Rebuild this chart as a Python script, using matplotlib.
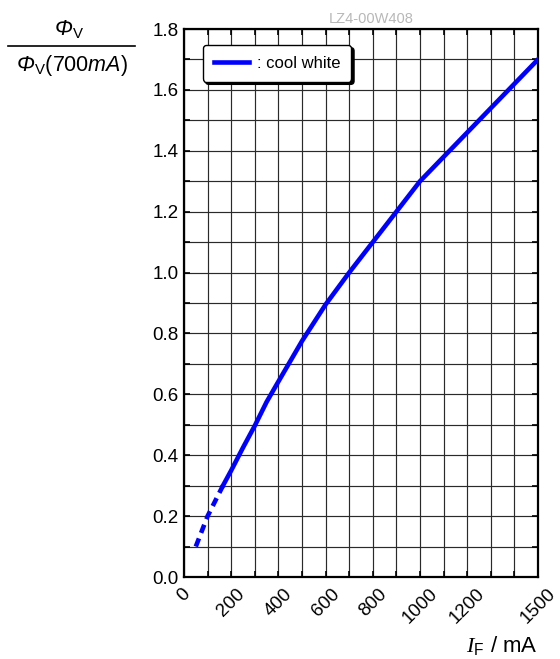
import matplotlib
matplotlib.use('Agg')
import matplotlib.pyplot as plt
from matplotlib.lines import Line2D

plt.rcParams['font.family'] = ['Liberation Sans', 'DejaVu Sans']
plt.rcParams['mathtext.fontset'] = 'custom'
plt.rcParams['mathtext.rm'] = 'Liberation Sans:italic'
plt.rcParams['mathtext.it'] = 'Liberation Sans:italic'
plt.rcParams['mathtext.sf'] = 'Liberation Sans'
plt.rcParams['mathtext.tt'] = 'Liberation Serif:italic'

current_dashed = [50, 100, 165]
flux_dashed = [0.10, 0.20, 0.30]
current_solid = [165, 200, 250, 300, 350, 400, 500, 600, 700, 800, 900, 1000,
                 1100, 1200, 1300, 1400, 1500]
flux_solid = [0.30, 0.35, 0.425, 0.497, 0.575, 0.642, 0.775, 0.895, 1.00, 1.10,
              1.20, 1.30, 1.38, 1.46, 1.54, 1.62, 1.70]

x_ticks = list(range(0, 1501, 100))
x_labels = ['0', '', '200', '', '400', '', '600', '', '800', '', '1000', '',
            '1200', '', '', '1500']
y_ticks = [i / 10 for i in range(19)]
y_labels = ['%.1f' % v if i % 2 == 0 else '' for i, v in enumerate(y_ticks)]

W, H = 560, 659
fig = plt.figure(figsize=(W / 100, H / 100), dpi=100)
ax = fig.add_axes([184 / W, (H - 577) / H, 354 / W, 548 / H])

ax.plot(current_dashed, flux_dashed, color='#0000ff', lw=3.3,
        linestyle=(0, (1.9, 1.3)), solid_capstyle='butt', zorder=3)
ax.plot(current_solid, flux_solid, color='#0000ff', lw=3.3, zorder=3,
        label=': cool white')

ax.set_xlim(0, 1500)
ax.set_ylim(0, 1.8)
ax.set_xticks(x_ticks)
ax.set_xticklabels(x_labels, rotation=45, ha='center', va='top', fontsize=13.5)
ax.set_yticks(y_ticks)
ax.set_yticklabels(y_labels, fontsize=13.5)
ax.tick_params(direction='in', length=4, width=1.2, top=True, right=True, pad=4)
ax.tick_params(axis='x', pad=6)
ax.grid(True, color='#2a2a2a', lw=0.85)
for s in ax.spines.values():
    s.set_linewidth(1.6)

leg = ax.legend(loc='upper left', bbox_to_anchor=(0.053, 0.971),
                borderaxespad=0, fontsize=12, handlelength=2.1,
                handletextpad=0.5, borderpad=0.65, framealpha=1,
                edgecolor='black', fancybox=True,
                shadow={'color': 'black', 'alpha': 1})
leg.get_frame().set_linewidth(1.0)

fig.text(371 / W, 1 - 19 / H, 'LZ4-00W408', color='#b8b8b8', fontsize=10.5,
         ha='center', va='center')

# y label as a fraction
fig.text(69 / W, 1 - 30 / H, r'$\Phi_\mathsf{V}$', fontsize=15.5,
         ha='center', va='center')
fig.add_artist(Line2D([8 / W, 135 / W], [1 - 45.5 / H, 1 - 45.5 / H],
                      color='black', lw=1.2, transform=fig.transFigure))
fig.text(72 / W, 1 - 66 / H, r'$\Phi_\mathsf{V}\mathsf{(700}mA\mathsf{)}$',
         fontsize=15.5, ha='center', va='center')

fig.text(538 / W, 7 / H, r'$\mathtt{I}_\mathsf{F}$ / mA', fontsize=16,
         ha='right', va='baseline')

fig.savefig('out.png', dpi=100)
